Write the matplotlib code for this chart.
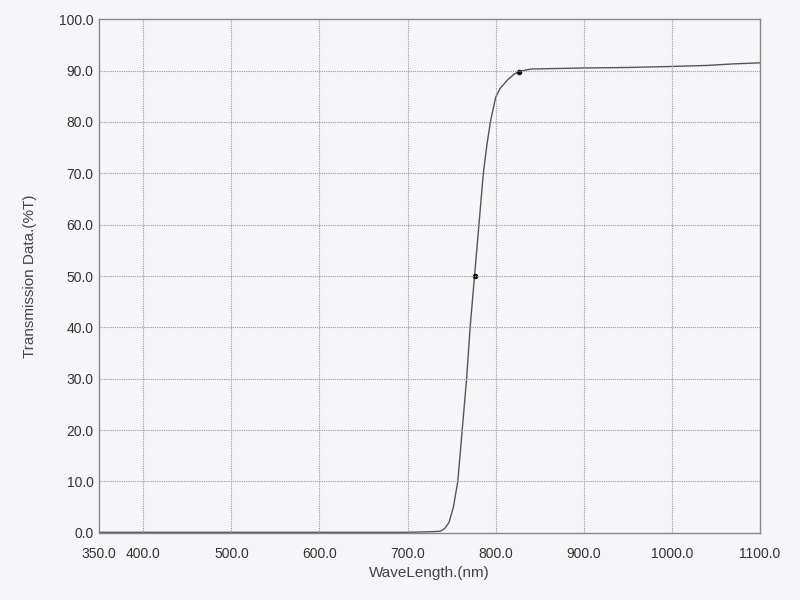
import matplotlib
matplotlib.use("Agg")
import matplotlib.pyplot as plt

plt.rcParams["font.family"] = ["Liberation Sans", "DejaVu Sans"]

# transmission spectrum
wavelength = [350, 400, 500, 600, 700, 725, 737, 742, 747, 752, 757, 762, 767, 771,
              776, 781, 786, 790, 794, 800, 805, 809, 813, 817, 821, 826, 840, 870,
              900, 950, 1000, 1040, 1070, 1100]
transmission = [0.1, 0.1, 0.1, 0.1, 0.1, 0.2, 0.3, 0.8, 2.0, 5.0, 10.0, 20.0, 30.0, 40.0,
                50.0, 60.0, 70.0, 75.5, 80.0, 84.8, 86.5, 87.3, 88.1, 88.7, 89.3, 89.8, 90.3, 90.4,
                90.5, 90.6, 90.8, 91.0, 91.3, 91.5]
marker_wl = [776, 826]
marker_t = [50.0, 89.8]

xticks = [350, 400, 500, 600, 700, 800, 900, 1000, 1100]
yticks = [0, 10, 20, 30, 40, 50, 60, 70, 80, 90, 100]
xgrid = [400, 500, 600, 700, 800, 900, 1000]

bg = "#f6f6f9"
fig = plt.figure(figsize=(8, 6), dpi=100, facecolor=bg)
ax = fig.add_axes([0.124, 0.112, 0.826, 0.856], facecolor=bg)

ax.plot(wavelength, transmission, color="#555555", lw=1.0)
ax.plot(marker_wl, marker_t, "o", color="#111111", ms=3)

ax.set_xlim(350, 1100)
ax.set_ylim(0, 100)
ax.set_xticks(xticks)
ax.set_xticklabels([f"{v:.1f}" for v in xticks])
ax.set_yticks(yticks)
ax.set_yticklabels([f"{v:.1f}" for v in yticks])
ax.tick_params(length=0, labelsize=10, colors="#333333")
ax.tick_params(axis="x", pad=10)
ax.tick_params(axis="y", pad=4)

for v in xgrid:
    ax.axvline(v, color="#999999", lw=0.8, ls=(0, (1, 1)))
for v in yticks[1:-1]:
    ax.axhline(v, color="#999999", lw=0.8, ls=(0, (1, 1)))

for s in ax.spines.values():
    s.set_color("#888888")
    s.set_linewidth(1.0)

ax.set_xlabel("WaveLength.(nm)", fontsize=11, color="#444444", labelpad=4)
ax.set_ylabel("Transmission Data.(%T)", fontsize=11, color="#444444", labelpad=16)

fig.savefig("out.png", dpi=100, facecolor=bg)
